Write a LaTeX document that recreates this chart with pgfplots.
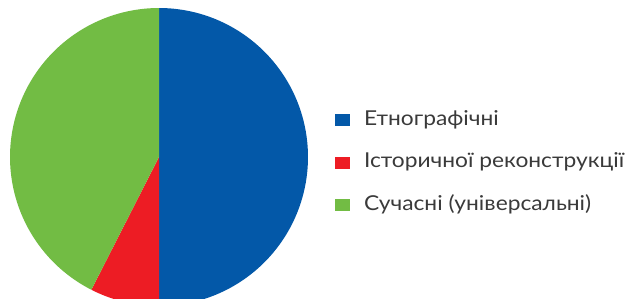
\documentclass[border=0pt]{standalone}
\usepackage{pgfplots}
\usepackage{pgfplotstable}
\pgfplotsset{compat=1.18}
\usepackage{fontspec}
\setmainfont{Lato}
\newfontfamily\legfont[FakeStretch=1.11]{Lato}
\definecolor{cblue}{HTML}{0358A8}
\definecolor{cred}{HTML}{ED1C24}
\definecolor{cgreen}{HTML}{72BC44}
\definecolor{ctext}{HTML}{3A3A3A}
\pgfplotstableread{
share
50
7.5
42.5
}\piedata
\pgfplotstablegetelem{0}{share}\of\piedata \let\va\pgfplotsretval
\pgfplotstablegetelem{1}{share}\of\piedata \let\vb\pgfplotsretval
\pgfplotstablegetelem{2}{share}\of\piedata \let\vc\pgfplotsretval
\pgfmathsetmacro{\aA}{90}
\pgfmathsetmacro{\aB}{90-3.6*\va}
\pgfmathsetmacro{\aC}{\aB-3.6*\vb}
\pgfmathsetmacro{\aD}{\aC-3.6*\vc}
\begin{document}
\begin{tikzpicture}
\begin{axis}[
  scale only axis, width=628pt, height=298pt,
  xmin=0, xmax=628, ymin=0, ymax=298,
  hide axis, clip=true,
  legend style={draw=none, fill=none, at={(axis cs:335,188)}, anchor=north west,
    inner sep=0pt, outer sep=0pt,
    font=\legfont\fontsize{20.5}{24}\selectfont\color{ctext}, row sep=22.5pt, column sep=14pt,
    nodes={inner sep=0pt, outer sep=0pt, text height=15pt, text depth=5pt}},
  legend cell align=left,
  legend image code/.code={\fill[#1] (0pt,-6pt) rectangle (15pt,6pt);},
]
\addplot[fill=cblue, draw=none, domain=\aB:\aA, samples=120, variable=\t]
  ({159+149*cos(t)},{141+149*sin(t)}) -- (axis cs:159,141) -- cycle;
\addlegendentry{Етнографічні}
\addplot[fill=cred, draw=none, domain=\aC:\aB, samples=40, variable=\t]
  ({159+149*cos(t)},{141+149*sin(t)}) -- (axis cs:159,141) -- cycle;
\addlegendentry{Історичної реконструкції}
\addplot[fill=cgreen, draw=none, domain=\aD:\aC, samples=120, variable=\t]
  ({159+149*cos(t)},{141+149*sin(t)}) -- (axis cs:159,141) -- cycle;
\addlegendentry{Сучасні (універсальні)}
\end{axis}
\pgfresetboundingbox
\useasboundingbox (current axis.south west) rectangle (current axis.north east);
\end{tikzpicture}
\end{document}
